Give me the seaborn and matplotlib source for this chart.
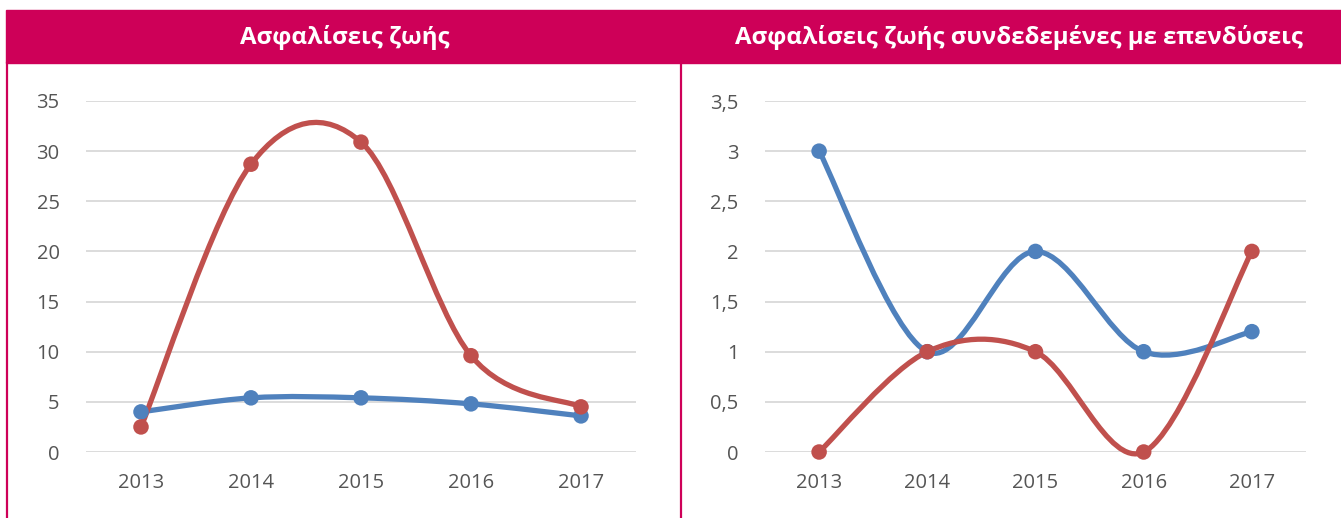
import matplotlib
matplotlib.use("Agg")
import matplotlib.pyplot as plt
import matplotlib.patches as mpatches
from matplotlib.path import Path
from matplotlib.lines import Line2D
from matplotlib.ticker import FuncFormatter
import numpy as np
import pandas as pd
import seaborn as sns

# ---------------------------------------------------------------
# DATA
# ---------------------------------------------------------------
years = [2013, 2014, 2015, 2016, 2017]

life_blue = [4.0, 5.4, 5.4, 4.8, 3.6]
life_red = [2.5, 28.7, 30.9, 9.6, 4.5]

linked_blue = [3, 1, 2, 1, 1.2]
linked_red = [0, 1, 1, 0, 2]

title_left = "Ασφαλίσεις ζωής"
title_right = "Ασφαλίσεις ζωής συνδεδεμένες με επενδύσεις"

yticks_left = [0, 5, 10, 15, 20, 25, 30, 35]
yticks_right = [0, 0.5, 1, 1.5, 2, 2.5, 3, 3.5]

BLUE = "#4F81BD"
RED = "#C0504D"
MAGENTA = "#CE0058"
GRID = "#D9D9D9"
TICK = "#555555"

sns.set_theme(style="white")
plt.rcParams["font.family"] = ["Open Sans", "DejaVu Sans"]

W, H = 1341, 518
fig = plt.figure(figsize=(W / 100, H / 100), dpi=100)


def smooth_path(xs, ys):
    """Excel-like smoothed line drawn as cubic Bezier segments."""
    pts = list(zip(xs, ys))
    verts = [pts[0]]
    codes = [Path.MOVETO]
    n = len(pts)
    for i in range(n - 1):
        p0 = pts[i - 1] if i > 0 else pts[i]
        p1 = pts[i]
        p2 = pts[i + 1]
        p3 = pts[i + 2] if i + 2 < n else pts[i + 1]
        c1 = (p1[0] + (p2[0] - p0[0]) / 6, p1[1] + (p2[1] - p0[1]) / 6)
        c2 = (p2[0] - (p3[0] - p1[0]) / 6, p2[1] - (p3[1] - p1[1]) / 6)
        verts += [c1, c2, p2]
        codes += [Path.CURVE4] * 3
    return Path(verts, codes)


def draw_panel(rect, blue, red, yticks, fmt):
    ax = fig.add_axes(rect)
    df = pd.DataFrame({
        "year": years * 2,
        "value": list(blue) + list(red),
        "serie": ["blue"] * len(years) + ["red"] * len(years),
    })
    for serie, color in [("blue", BLUE), ("red", RED)]:
        sub = df[df["serie"] == serie]
        patch = mpatches.PathPatch(smooth_path(sub["year"].tolist(), sub["value"].tolist()),
                                   facecolor="none", edgecolor=color, lw=3.8,
                                   capstyle="round", joinstyle="round",
                                   clip_on=False, zorder=3)
        ax.add_patch(patch)
        sns.scatterplot(data=sub, x="year", y="value", color=color, s=125,
                        edgecolor="none", ax=ax, zorder=4, clip_on=False, legend=False)

    ax.set_xlim(2012.5, 2017.5)
    ax.set_ylim(yticks[0], yticks[-1])
    ax.set_xticks(years)
    ax.set_yticks(yticks)
    ax.yaxis.set_major_formatter(FuncFormatter(fmt))
    ax.grid(axis="y", color=GRID, lw=1.3)
    ax.grid(axis="x", visible=False)
    for s in ax.spines.values():
        s.set_visible(False)
    ax.tick_params(axis="both", length=0, labelsize=14.5, labelcolor=TICK)
    ax.tick_params(axis="y", pad=19)
    ax.tick_params(axis="x", pad=15)
    ax.set_xlabel("")
    ax.set_ylabel("")
    ax.set_axisbelow(True)
    return ax


draw_panel([86 / W, 66 / H, 550 / W, 351 / H], life_blue, life_red, yticks_left,
           lambda v, p: f"{v:g}")
draw_panel([765 / W, 66 / H, 541 / W, 351 / H], linked_blue, linked_red, yticks_right,
           lambda v, p: f"{v:g}".replace(".", ","))

# header bars
fig.patches.append(mpatches.Rectangle((6 / W, (H - 63) / H), (W - 6) / W, 53 / H,
                                      transform=fig.transFigure, color=MAGENTA, zorder=0))
fig.text(345 / W, (H - 38) / H, title_left, color="white", fontsize=17.3,
         fontweight="bold", ha="center", va="center")
fig.text(1019 / W, (H - 38) / H, title_right, color="white", fontsize=17.3,
         fontweight="bold", ha="center", va="center")

# panel borders
for xpix in (7, 681):
    fig.add_artist(Line2D([xpix / W, xpix / W], [0, (H - 62) / H],
                          transform=fig.transFigure, color=MAGENTA, lw=1.6))

fig.savefig("out.png", dpi=100)
